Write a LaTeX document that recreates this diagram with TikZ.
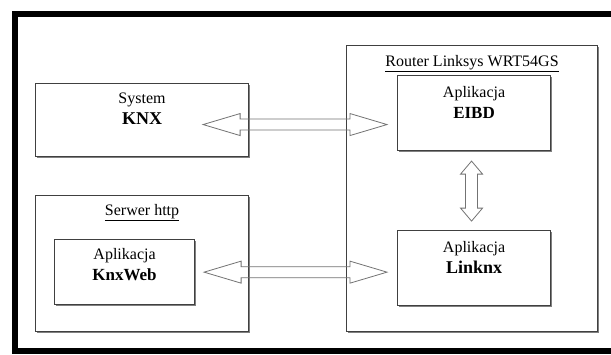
\documentclass[tikz,border=0pt]{standalone}
\usepackage{fontspec}
\setmainfont{Liberation Serif}
\usepackage{tikz}
\usetikzlibrary{positioning,calc,shadows}

\begin{document}
\begin{tikzpicture}[
        x=1pt, y=-1pt,
        box/.style = {shape=rectangle, draw=black!75, fill=white, line width=1.1pt,
                      inner sep=0pt,
                      drop shadow={shadow xshift=1.8pt, shadow yshift=-1.8pt,
                                   fill=black!50, opacity=1}},
        txt/.style = {align=center, inner sep=0pt, outer sep=0pt,
                      font=\fontsize{16}{21}\selectfont},
        hdbl/.style = {draw=black!55, line width=0.8pt, to path={
            let \p1=(\tikztostart), \p2=(\tikztotarget) in
            (\p1) -- (\x1+37pt,\y1+11pt) -- (\x1+37pt,\y1+5.5pt)
            -- (\x2-37pt,\y1+5.5pt) -- (\x2-37pt,\y1+11pt) -- (\p2)
            -- (\x2-37pt,\y1-11pt) -- (\x2-37pt,\y1-5.5pt)
            -- (\x1+37pt,\y1-5.5pt) -- (\x1+37pt,\y1-11pt) -- cycle}},
        vdbl/.style = {draw=black!55, line width=0.8pt, to path={
            let \p1=(\tikztostart), \p2=(\tikztotarget) in
            (\p1) -- (\x1-11pt,\y1-13pt) -- (\x1-6pt,\y1-13pt)
            -- (\x1-6pt,\y2+13pt) -- (\x1-11pt,\y2+13pt) -- (\p2)
            -- (\x1+11pt,\y2+13pt) -- (\x1+6pt,\y2+13pt)
            -- (\x1+6pt,\y1-13pt) -- (\x1+11pt,\y1-13pt) -- cycle}}]
    \clip (0,0) rectangle (611,354);
    \fill[white] (0,0) rectangle (611,354);
    \draw[line width=6pt] (15,13.5) rectangle (630,351);

    \node[box, minimum width=251pt, minimum height=286pt, anchor=north west] (router) at (346,45) {};
    \node[box, minimum width=153pt, minimum height=75pt, anchor=north west] (eibd) at ([xshift=51pt,yshift=-30pt]router.north west) {};
    \node[box, minimum width=153pt, minimum height=75pt, below=79pt of eibd] (lnx) {};

    \node[box, minimum width=213pt, minimum height=73pt, anchor=north west] (sys) at (35,83) {};
    \node[box, minimum width=213pt, minimum height=136pt, below=38pt of sys] (srv) {};
    \node[box, minimum width=140pt, minimum height=65pt, anchor=north west] (web) at ([xshift=19pt,yshift=-44pt]srv.north west) {};

    \node[txt, below=10pt of router.north] (routerlabel) {\underline{Router Linksys WRT54GS}};
    \node[txt, below=11pt of eibd.north] (eibdlabel) {Aplikacja\\\textbf{\fontsize{17}{21}\selectfont EIBD}};
    \node[txt, below=11pt of lnx.north] (lnxlabel) {Aplikacja\\\textbf{\fontsize{18}{23}\selectfont Linknx}};
    \node[txt, below=10pt of sys.north] (syslabel) {System\\\textbf{\fontsize{18}{23}\selectfont KNX}};
    \node[txt, below=9pt of srv.north] (srvlabel) {\underline{Serwer http}};
    \node[txt, below=9pt of web.north] (weblabel) {Aplikacja\\\textbf{\fontsize{17}{22}\selectfont KnxWeb}};

    \coordinate (knxL) at ([xshift=-46pt,yshift=-4.5pt]sys.east);
    \coordinate (knxR) at ([xshift=-10pt]eibd.west |- knxL);
    \coordinate (webL) at ([xshift=9pt]web.east);
    \coordinate (webR) at ([xshift=-10pt]lnx.west |- webL);
    \coordinate (eibdB) at ([xshift=-2.5pt,yshift=-10pt]eibd.south);
    \coordinate (lnxT) at ([xshift=-2.5pt,yshift=9pt]lnx.north);

    \draw[hdbl] (knxL) to (knxR);
    \draw[hdbl] (webL) to (webR);
    \draw[vdbl] (eibdB) to (lnxT);
\end{tikzpicture}
\end{document}
